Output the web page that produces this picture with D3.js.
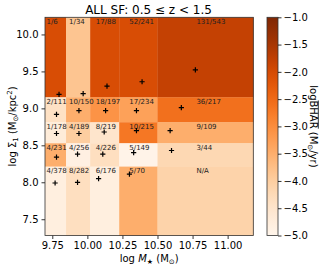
<!DOCTYPE html>
<html>
<head>
<meta charset="utf-8">
<script src="https://cdn.jsdelivr.net/npm/d3@7"></script>
<style>
  body { margin: 0; background: #fff; }
  svg { font-family: "DejaVu Sans", sans-serif; }
</style>
</head>
<body>
<svg id="chart" width="326" height="270"></svg>
<script>
// bin edges (log M*, log Sigma1)
const massEdges = [9.698, 9.848, 10.02, 10.227, 10.5, 11.183]
const sigmaEdges = [10.232, 9.15, 8.812, 8.528, 8.212, 7.28]

// mean logBHAR per cell, rows top -> bottom, columns left -> right
const bharRows = [
    [-2.05, -3.85, -2.05, -2.05, -1.8],
    [-4.4, -3.5, -3.1, -3.3, -2.6],
    [-4.7, -4.0, -4.5, -2.7, -3.5],
    [-3.5, -4.85, -4.35, -4.95, -4.2],
    [-4.8, -4.35, -4.8, -3.5, -4.1]
]

const countRows = [
    ['1/6', '1/34', '17/88', '52/241', '131/543'],
    ['2/111', '10/150', '18/197', '17/234', '36/217'],
    ['1/178', '4/189', '8/219', '10/215', '9/109'],
    ['4/231', '4/256', '4/226', '5/149', '3/44'],
    ['4/378', '8/282', '6/176', '5/70', 'N/A']
]

// median positions (+ markers), [logM, logSigma1]
const medianRows = [
    [[9.798, 9.19], [9.97, 9.20], [10.14, 9.30], [10.39, 9.36], [10.77, 9.52]],
    [[9.78, 8.92], [9.94, 8.97], [10.13, 8.97], [10.35, 8.97], [10.67, 9.01]],
    [[9.78, 8.66], [9.94, 8.66], [10.12, 8.68], [10.35, 8.70], [10.59, 8.70]],
    [[9.78, 8.34], [9.93, 8.38], [10.11, 8.38], [10.33, 8.40], [10.60, 8.43]],
    [[9.77, 7.99], [9.93, 8.00], [10.08, 8.05], [10.30, 8.11], null]
]

const xTicks = [9.75, 10.0, 10.25, 10.5, 10.75, 11.0]
const yTicks = [7.5, 8.0, 8.5, 9.0, 9.5, 10.0]
const cbarTicks = [-5.0, -4.5, -4.0, -3.5, -3.0, -2.5, -2.0, -1.5, -1.0]

const plot = { left: 45, right: 253.3, top: 17.3, bottom: 235.5 }
const cbar = { left: 267, right: 278 }

const svg = d3.select('#chart')

const x = d3.scaleLinear().domain([massEdges[0], massEdges[massEdges.length - 1]]).range([plot.left, plot.right])
const y = d3.scaleLinear().domain([sigmaEdges[sigmaEdges.length - 1], sigmaEdges[0]]).range([plot.bottom, plot.top])
const color = d3.scaleSequential(d3.interpolateOranges).domain([-5, -1])

const cells = []
bharRows.forEach((row, r) => {
    row.forEach((v, c) => {
        cells.push({
            x0: massEdges[c], x1: massEdges[c + 1],
            y0: sigmaEdges[r], y1: sigmaEdges[r + 1],
            value: v, label: countRows[r][c], median: medianRows[r][c]
        })
    })
})

svg.append('g')
    .selectAll('rect')
    .data(cells)
    .enter()
    .append('rect')
    .attr('x', d => x(d.x0))
    .attr('y', d => y(d.y0))
    .attr('width', d => x(d.x1) - x(d.x0) + 0.3)
    .attr('height', d => y(d.y1) - y(d.y0) + 0.3)
    .attr('fill', d => color(d.value))

svg.append('g')
    .selectAll('text')
    .data(cells)
    .enter()
    .append('text')
    .attr('x', d => x((d.x0 + d.x1) / 2) - 9)
    .attr('y', d => y(d.y0) + 6.8)
    .attr('font-size', 7)
    .attr('fill', '#222')
    .text(d => d.label)

svg.append('g')
    .selectAll('path')
    .data(cells.filter(d => d.median))
    .enter()
    .append('path')
    .attr('transform', d => `translate(${x(d.median[0])},${y(d.median[1])})`)
    .attr('d', 'M-2.6,0H2.6M0,-2.6V2.6')
    .attr('stroke', '#000')
    .attr('stroke-width', 1.2)

// axes
const xAxis = d3.axisBottom(x).tickValues(xTicks).tickFormat(d3.format('.2f')).tickSizeOuter(0).tickSize(3.5).tickPadding(3)
const yAxis = d3.axisLeft(y).tickValues(yTicks).tickFormat(d3.format('.1f')).tickSizeOuter(0).tickSize(3.5).tickPadding(3)

const gx = svg.append('g').attr('transform', `translate(0,${plot.bottom})`).call(xAxis)
const gy = svg.append('g').attr('transform', `translate(${plot.left},0)`).call(yAxis)
;[gx, gy].forEach(g => {
    g.select('.domain').remove()
    g.selectAll('text').attr('font-size', 10).attr('font-family', 'DejaVu Sans').attr('fill', '#000')
    g.selectAll('line').attr('stroke', '#000').attr('stroke-width', 0.8)
})

svg.append('rect')
    .attr('x', plot.left).attr('y', plot.top)
    .attr('width', plot.right - plot.left).attr('height', plot.bottom - plot.top)
    .attr('fill', 'none').attr('stroke', '#333').attr('stroke-width', 0.8)

// title and labels
svg.append('text')
    .attr('x', 148.5).attr('y', 13.5)
    .attr('text-anchor', 'middle')
    .attr('font-size', 12)
    .text('ALL SF: 0.5 \u2264 z < 1.5')

const xl = svg.append('text')
    .attr('x', (plot.left + plot.right) / 2).attr('y', 262)
    .attr('text-anchor', 'middle')
    .attr('font-size', 10)
xl.append('tspan').text('log ')
xl.append('tspan').attr('font-style', 'italic').text('M')
xl.append('tspan').attr('font-size', 7).attr('dy', 2).text('\u2605')
xl.append('tspan').attr('dy', -2).text(' (M')
xl.append('tspan').attr('font-size', 7).attr('dy', 2).text('\u2299')
xl.append('tspan').attr('dy', -2).text(')')

const yl = svg.append('text')
    .attr('transform', `translate(16,${(plot.top + plot.bottom) / 2}) rotate(-90)`)
    .attr('text-anchor', 'middle')
    .attr('font-size', 10)
yl.append('tspan').text('log \u03a3')
yl.append('tspan').attr('font-size', 7).attr('dy', 2).text('1')
yl.append('tspan').attr('dy', -2).text(' (M')
yl.append('tspan').attr('font-size', 7).attr('dy', 2).text('\u2299')
yl.append('tspan').attr('dy', -2).text('/kpc')
yl.append('tspan').attr('font-size', 7).attr('dy', -4).text('2')
yl.append('tspan').attr('dy', 4).text(')')

// colorbar
const cy = d3.scaleLinear().domain([-5, -1]).range([plot.bottom, plot.top])
const defs = svg.append('defs')
const grad = defs.append('linearGradient').attr('id', 'cbar').attr('x1', 0).attr('y1', 1).attr('x2', 0).attr('y2', 0)
d3.range(0, 1.0001, 0.05).forEach(t => {
    grad.append('stop').attr('offset', t).attr('stop-color', color(-5 + 4 * t))
})
svg.append('rect')
    .attr('x', cbar.left).attr('y', plot.top)
    .attr('width', cbar.right - cbar.left).attr('height', plot.bottom - plot.top)
    .attr('fill', 'url(#cbar)')
    .attr('stroke', '#333').attr('stroke-width', 0.8)

const cAxis = d3.axisRight(cy).tickValues(cbarTicks)
    .tickFormat(d => d3.format('.1f')(d).replace('-', '\u2212'))
    .tickSizeOuter(0).tickSize(3.5).tickPadding(2)
const gc = svg.append('g').attr('transform', `translate(${cbar.right},0)`).call(cAxis)
gc.select('.domain').remove()
gc.selectAll('text').attr('font-size', 10).attr('font-family', 'DejaVu Sans').attr('fill', '#000')
gc.selectAll('line').attr('stroke', '#000').attr('stroke-width', 0.8)

const clg = svg.append('g')
    .attr('transform', `translate(310,${(plot.top + plot.bottom) / 2}) rotate(90)`)
const cl = clg.append('text')
    .attr('text-anchor', 'middle')
    .attr('font-size', 10)
cl.append('tspan').text('logBHAR')
cl.append('tspan').text(' (M')
cl.append('tspan').attr('font-size', 7).attr('dy', 2).text('\u2299')
cl.append('tspan').attr('dy', -2).text('/yr)')

// overline on BHAR
const clNode = cl.node()
const ox0 = clNode.getStartPositionOfChar(3).x
const ox1 = clNode.getEndPositionOfChar(6).x
clg.append('line')
    .attr('x1', ox0).attr('x2', ox1)
    .attr('y1', -8.3).attr('y2', -8.3)
    .attr('stroke', '#000').attr('stroke-width', 0.8)
</script>
</body>
</html>
